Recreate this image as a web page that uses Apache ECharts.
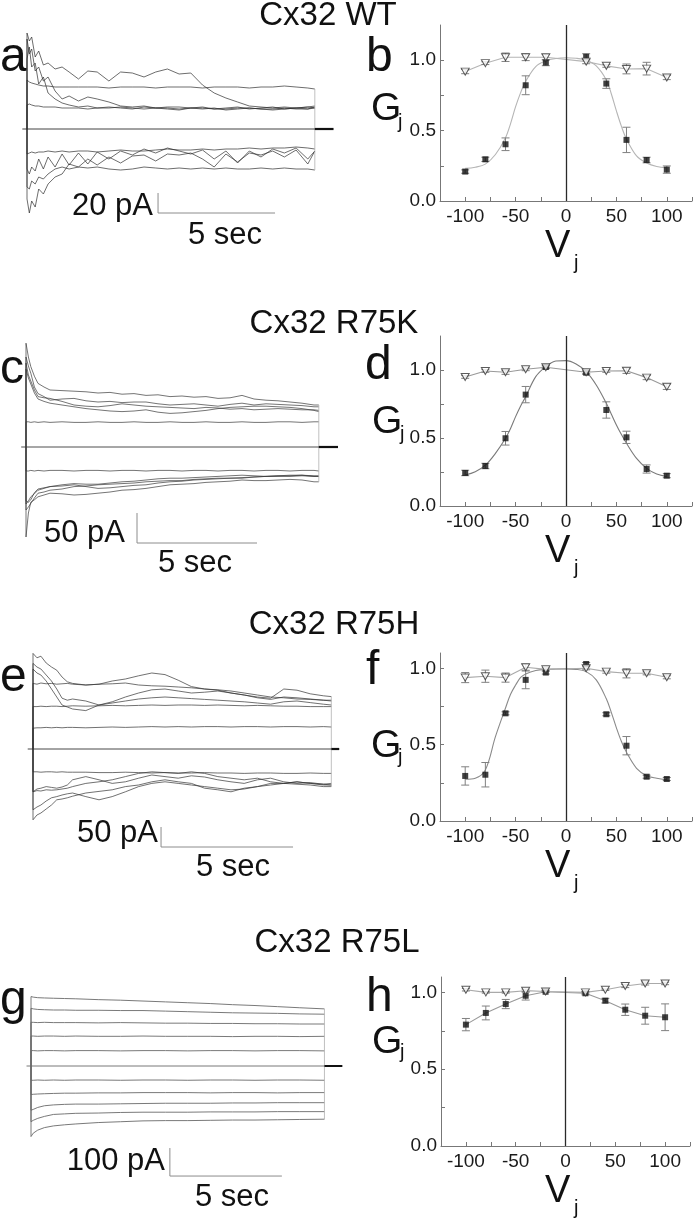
<!DOCTYPE html>
<html><head><meta charset="utf-8">
<script src="https://cdn.jsdelivr.net/npm/echarts@6/dist/echarts.min.js"></script>
<style>html,body{margin:0;padding:0;background:#fff}#c{width:693px;height:1219px}</style>
</head><body><div id="c"></div><script>
const FONT = '"Liberation Sans", Arial, Helvetica, sans-serif';

// ================= DATA =================
// Titles / panel letters
const titles = ['Cx32 WT', 'Cx32 R75K', 'Cx32 R75H', 'Cx32 R75L'];
const letters = ['a', 'b', 'c', 'd', 'e', 'f', 'g', 'h'];

// ---- Gj–Vj plots (b, d, f, h) ----
const vj = [-100, -80, -60, -40, -20, 20, 40, 60, 80, 100];
const fitV = [-100, -90, -80, -70, -60, -55, -50, -45, -40, -30, -20, -10, 0, 10, 20, 30, 40, 45, 50, 55, 60, 70, 80, 90, 100];
const xTickVals = [-125, -100, -75, -50, -25, 0, 25, 50, 75, 100, 125];
const xLabelVals = [-100, -50, 0, 50, 100];
const yTickVals = [0, 0.25, 0.5, 0.75, 1.0];
const yLabelVals = [0, 0.5, 1.0];

// WT
const wtSq = [0.209, 0.296, 0.403, 0.822, 0.983, 1.024, 0.834, 0.434, 0.291, 0.223];
const wtSqErr = [0.012, 0.015, 0.045, 0.067, 0.022, 0.022, 0.034, 0.09, 0.02, 0.026];
const wtTri = [0.919, 0.979, 1.021, 1.021, 1.021, 0.99, 0.96, 0.938, 0.94, 0.877];
const wtTriErr = [0.015, 0.01, 0.03, 0.024, 0.02, 0.015, 0.01, 0.035, 0.045, 0.015];
const wtFit = [0.232, 0.24, 0.262, 0.33, 0.45, 0.55, 0.67, 0.77, 0.85, 0.955, 0.995, 1.012, 1.017, 1.014, 1.0, 0.96, 0.86, 0.76, 0.64, 0.53, 0.44, 0.32, 0.27, 0.245, 0.235];
// R75K
const kSq = [0.243, 0.294, 0.498, 0.819, 1.022, 0.98, 0.706, 0.505, 0.272, 0.223];
const kSqErr = [0.02, 0.02, 0.05, 0.06, 0.01, 0.012, 0.06, 0.045, 0.03, 0.015];
const kTri = [0.949, 0.993, 0.983, 1.005, 1.02, 0.983, 0.993, 0.995, 0.944, 0.877];
const kTriErr = [0.01, 0.01, 0.015, 0.01, 0.01, 0.01, 0.01, 0.02, 0.015, 0.02];
const kFit = [0.228, 0.252, 0.30, 0.387, 0.498, 0.57, 0.657, 0.735, 0.804, 0.951, 1.025, 1.066, 1.069, 1.044, 0.988, 0.89, 0.755, 0.675, 0.596, 0.525, 0.461, 0.35, 0.277, 0.235, 0.216];
// R75H
const hSq = [0.295, 0.303, 0.705, 0.924, 0.972, 1.028, 0.699, 0.493, 0.29, 0.275];
const hSqErr = [0.06, 0.08, 0.01, 0.058, 0.01, 0.01, 0.01, 0.06, 0.01, 0.01];
const hTri = [0.939, 0.948, 0.939, 1.007, 0.993, 1.0, 0.978, 0.967, 0.967, 0.941];
const hTriErr = [0.033, 0.04, 0.03, 0.02, 0.01, 0.01, 0.01, 0.03, 0.01, 0.01];
const hFit = [0.273, 0.28, 0.334, 0.552, 0.74, 0.83, 0.89, 0.94, 0.963, 0.985, 0.993, 0.995, 0.996, 0.993, 0.978, 0.924, 0.80, 0.71, 0.61, 0.52, 0.45, 0.345, 0.297, 0.28, 0.269];
// R75L
const lSq = [0.79, 0.866, 0.924, 0.978, 1.004, 0.994, 0.946, 0.887, 0.848, 0.838];
const lSqErr = [0.04, 0.045, 0.03, 0.028, 0.005, 0.01, 0.015, 0.037, 0.055, 0.087];
const lTri = [1.017, 1.0, 1.0, 1.011, 1.006, 1.0, 1.017, 1.041, 1.058, 1.058];
const lTriErr = [0.008, 0.005, 0.005, 0.01, 0.005, 0.005, 0.005, 0.01, 0.01, 0.008];

// ---- current traces (a, c, e, g): time in s, current in pA ----
const scaleSec = [5, 5, 5, 5];
const scalePA = [20, 50, 50, 100];

const tA = [0, 0.1, 0.2, 0.35, 0.5, 0.7, 0.9, 1.2, 1.5, 1.8, 2.2, 2.6, 3.0, 3.5, 4.0, 4.5, 5.0, 5.5, 6.0, 6.5, 7.0, 7.5, 8.0, 8.5, 9.0, 9.5, 10.0, 10.5, 11.0, 11.5, 12.0, 12.3];
const a1 = [96, 88, 92, 72, 78, 64, 66, 60, 62, 57, 50, 58, 57, 48, 57, 56, 52, 57, 60, 55, 56, 44, 36, 31, 27, 23, 22, 21, 22, 21, 22, 23];
const a2 = [49, 47, 46, 45, 44, 43, 43, 42, 42, 42, 42, 42, 42, 41, 42, 42, 42, 41, 42, 42, 42, 41, 42, 42, 42, 41, 42, 42, 43, 42, 41, 40];
const a3 = [90, 75, 80, 58, 62, 48, 52, 38, 30, 33, 28, 32, 30, 27, 23, 22, 23, 21, 22, 22, 21, 22, 20, 21, 22, 20, 21, 22, 20, 21, 22, 21];
const a4 = [24, 25, 24, 23, 23, 22, 22, 22, 21, 21, 21, 20, 21, 21, 22, 21, 20, 21, 21, 20, 21, 21, 20, 20, 21, 21, 20, 20, 21, 20, 20, 21];
const a5 = [70, 82, 62, 66, 45, 52, 36, 30, 26, 24, 22, 23, 21, 22, 21, 20, 22, 21, 20, 19, 21, 20, 21, 19, 20, 21, 20, 19, 20, 21, 20, 22];
const a6 = [-25, -24, -23, -24, -23, -23, -22, -23, -22, -23, -22, -22, -23, -22, -21, -22, -22, -21, -20, -21, -21, -20, -21, -20, -20, -19, -20, -19, -19, -18, -19, -20];
const a7 = [-40, -45, -38, -42, -30, -40, -28, -38, -25, -36, -24, -35, -23, -30, -22, -26, -20, -24, -19, -22, -25, -21, -30, -22, -34, -22, -28, -20, -24, -19, -30, -22];
const a8 = [-58, -60, -52, -55, -48, -50, -45, -40, -38, -40, -38, -39, -38, -40, -41, -40, -38, -39, -40, -39, -40, -39, -40, -39, -40, -40, -39, -40, -39, -40, -40, -41];
const a9 = [-70, -84, -72, -78, -60, -65, -55, -48, -45, -35, -38, -30, -36, -28, -34, -27, -26, -32, -25, -26, -24, -30, -38, -25, -33, -24, -26, -22, -28, -21, -35, -22];

const tC = [0, 0.1, 0.2, 0.35, 0.5, 0.75, 1, 1.5, 2, 2.5, 3, 3.5, 4, 4.5, 5, 5.5, 6, 6.5, 7, 7.5, 8, 8.5, 9, 9.5, 10, 10.5, 11, 11.5, 12, 12.2];
const c1 = [173, 150, 134, 118, 106, 100, 95, 94, 93, 92, 90, 91, 88, 89, 86, 87, 84, 85, 83, 84, 81, 82, 86, 80, 78, 77, 75, 73, 70, 70];
const c2 = [150, 135, 123, 100, 89, 84, 78, 80, 81, 77, 75, 76, 74, 75, 75, 72, 70, 71, 72, 70, 68, 71, 73, 70, 72, 71, 70, 69, 67, 67];
const c3 = [140, 120, 110, 95, 84, 82, 81, 76, 70, 68, 67, 69, 72, 70, 68, 67, 66, 65, 64, 66, 65, 63, 64, 62, 63, 64, 63, 62, 62, 61];
const c4 = [130, 115, 105, 90, 80, 76, 73, 70, 67, 64, 62, 60, 59, 60, 62, 58, 56, 57, 59, 61, 64, 66, 67, 68, 68, 67, 66, 64, 61, 59];
const c5 = [42, 42, 41, 42, 41, 42, 41, 42, 41, 41, 42, 41, 41, 42, 41, 41, 42, 41, 41, 42, 41, 41, 42, 41, 41, 42, 42, 41, 42, 42];
const c6 = [-40, -40, -39, -40, -39, -40, -39, -39, -40, -39, -39, -40, -39, -39, -40, -39, -39, -40, -39, -39, -40, -39, -39, -40, -39, -39, -40, -39, -39, -40];
const c7 = [-105, -100, -94, -85, -77, -75, -72, -70, -66, -65, -63, -62, -61, -60, -58, -57, -56, -56, -54, -53, -52, -52, -51, -50, -49, -49, -49, -48, -49, -49];
const c8 = [-95, -90, -83, -78, -72, -69, -66, -65, -63, -66, -69, -68, -66, -64, -63, -60, -58, -57, -55, -54, -53, -52, -52, -50, -49, -48, -48, -47, -48, -48];
const c9 = [-150, -110, -92, -88, -83, -80, -77, -78, -80, -79, -77, -75, -72, -71, -69, -66, -63, -62, -61, -59, -58, -57, -55, -56, -56, -55, -54, -55, -58, -58];
const c10 = [-90, -92, -88, -76, -70, -68, -66, -63, -61, -62, -62, -60, -58, -57, -55, -53, -52, -52, -51, -50, -49, -48, -47, -48, -49, -48, -47, -47, -49, -49];

const tE = [0, 0.15, 0.3, 0.5, 0.7, 0.9, 1.1, 1.3, 1.5, 2, 2.5, 3, 3.5, 4, 4.5, 5, 5.5, 6, 6.5, 7, 7.5, 8, 8.5, 9, 9.5, 10, 10.5, 11, 11.3];
const e1 = [239, 228, 232, 215, 205, 197, 180, 168, 164, 160, 162, 170, 175, 183, 190, 186, 172, 156, 150, 147, 140, 135, 130, 127, 150, 147, 138, 133, 131];
const e2 = [214, 205, 200, 185, 170, 150, 127, 122, 125, 120, 110, 118, 130, 140, 148, 150, 145, 140, 142, 145, 140, 135, 128, 124, 130, 128, 125, 122, 120];
const e3 = [164, 162, 165, 163, 164, 162, 163, 164, 162, 160, 162, 163, 165, 160, 158, 157, 155, 153, 150, 148, 145, 140, 135, 130, 128, 125, 124, 122, 122];
const e4 = [200, 190, 185, 170, 150, 130, 110, 105, 100, 96, 110, 115, 120, 125, 128, 130, 128, 126, 124, 122, 120, 118, 115, 112, 118, 120, 116, 112, 110];
const e5 = [106, 106, 107, 106, 107, 107, 106, 107, 108, 107, 108, 109, 108, 109, 110, 109, 110, 110, 109, 110, 109, 108, 109, 108, 107, 107, 106, 106, 106];
const e6 = [52, 53, 53, 54, 53, 54, 53, 54, 54, 53, 54, 55, 54, 55, 56, 55, 56, 55, 56, 56, 55, 56, 56, 55, 56, 56, 55, 56, 55];
const e7 = [-57, -57, -58, -57, -57, -58, -57, -58, -58, -58, -59, -59, -58, -59, -60, -59, -60, -60, -59, -60, -60, -61, -60, -60, -61, -61, -60, -61, -61];
const e8 = [-107, -104, -105, -102, -103, -102, -100, -98, -94, -86, -82, -77, -69, -61, -57, -59, -61, -57, -61, -69, -73, -77, -73, -82, -86, -82, -86, -90, -90];
const e9 = [-152, -145, -140, -130, -122, -119, -115, -112, -110, -119, -127, -119, -107, -94, -86, -82, -86, -90, -94, -98, -102, -100, -94, -86, -86, -88, -90, -94, -94];
const e10 = [-177, -165, -160, -150, -140, -127, -125, -122, -118, -110, -106, -102, -94, -90, -82, -77, -82, -86, -98, -102, -107, -98, -94, -90, -86, -82, -86, -88, -86];
const e11 = [-107, -100, -98, -94, -96, -98, -95, -90, -77, -69, -77, -86, -82, -73, -65, -69, -73, -67, -70, -77, -82, -86, -77, -73, -82, -86, -84, -88, -90];

const tG = [0, 0.1, 0.3, 0.6, 1, 1.5, 2, 3, 4, 5, 6, 7, 8, 9, 10, 11, 12, 13.1];
const g1 = [248, 246, 244, 243, 242, 241, 240, 237, 235, 232, 229, 226, 223, 219, 216, 212, 208, 204];
const g2 = [206, 204, 202, 201, 200, 200, 199, 199, 198, 198, 196, 194, 192, 190, 189, 188, 186, 185];
const g3 = [156, 156, 155, 156, 155, 155, 155, 154, 155, 154, 153, 153, 152, 152, 151, 151, 150, 150];
const g4 = [107, 107, 106, 107, 107, 106, 107, 106, 106, 107, 106, 106, 106, 105, 106, 106, 105, 106];
const g5 = [55, 55, 54, 55, 55, 54, 55, 55, 54, 55, 55, 54, 55, 55, 54, 55, 55, 54];
const g7 = [-51, -51, -50, -51, -50, -51, -50, -50, -51, -50, -50, -51, -50, -50, -51, -50, -50, -51];
const g8 = [-102, -101, -100, -99, -98, -97, -97, -96, -96, -95, -95, -95, -96, -95, -95, -96, -95, -95];
const g9 = [-158, -155, -148, -142, -139, -137, -136, -136, -135, -134, -133, -133, -133, -132, -132, -131, -131, -131];
const g10 = [-199, -194, -187, -180, -173, -171, -169, -168, -166, -165, -165, -165, -164, -164, -164, -163, -163, -163];
const g11 = [-252, -240, -229, -220, -214, -210, -207, -202, -199, -196, -195, -195, -194, -193, -193, -192, -191, -190];

// ================= LAYOUT =================
const tracePanels = [
  { t: tA, traces: [a1, a2, a3, a4, a5, a6, a7, a8, a9], tHold: 13.1, ox: 27, oy: 129, sx: 23.4, sy: 1.0, tr: [-0.5, 13.5], yr: [-100, 115], bar: [5.6, -84], color: '#2e2e2e', w: 0.7,
    pALbl: [153, 206], secLbl: [225, 235] },
  { t: tC, traces: [c1, c2, c3, c4, c5, c6, c7, c8, c9, c10], tHold: 13.0, ox: 26, oy: 447, sx: 24, sy: 0.6, tr: [-0.5, 13.5], yr: [-180, 190], bar: [4.625, -160], color: '#3a3a3a', w: 0.7,
    pALbl: [125, 533], secLbl: [195, 563] },
  { t: tE, traces: [e1, e2, e3, e4, e5, e6, e7, e8, e9, e10, e11], tHold: 11.6, ox: 33, oy: 749, sx: 26.4, sy: 0.4, tr: [-0.5, 12], yr: [-260, 260], bar: [4.85, -245], color: '#333', w: 0.7,
    pALbl: [158, 833], secLbl: [233, 867] },
  { t: tG, traces: [g1, g2, g3, g4, g5, g7, g8, g9, g10, g11], tHold: 13.9, ox: 31, oy: 1066, sx: 22.4, sy: 0.28, tr: [-0.5, 14], yr: [-420, 280], bar: [6.2, -393], color: '#6a6a6a', w: 0.9,
    pALbl: [165, 1161], secLbl: [232, 1197] }
];

const gjPanels = [
  { sq: wtSq, sqErr: wtSqErr, tri: wtTri, triErr: wtTriErr, fit: wtFit, ymax: 1.25, grid: { left: 440, top: 25, width: 252, height: 176 }, fitColor: '#b5b5b5', triColor: '#b5b5b5' },
  { sq: kSq, sqErr: kSqErr, tri: kTri, triErr: kTriErr, fit: kFit, ymax: 1.25, grid: { left: 440, top: 336, width: 252, height: 170 }, fitColor: '#7a7a7a', triColor: '#999' },
  { sq: hSq, sqErr: hSqErr, tri: hTri, triErr: hTriErr, fit: hFit, ymax: 1.1, grid: { left: 440, top: 653, width: 252, height: 168 }, fitColor: '#8a8a8a', triColor: '#aaa' },
  { sq: lSq, sqErr: lSqErr, tri: lTri, triErr: lTriErr, fit: null, ymax: 1.1, grid: { left: 441, top: 977, width: 249, height: 169 }, fitColor: '#999', triColor: '#aaa' }
];

const letterPos = [[0, 58], [366, 58], [0, 370], [365, 366], [0, 678], [366, 671], [0, 1001], [366, 998]];
const titlePos = [[328, 16], [334, 324], [334, 625], [337, 943]];
const gPos = [[371, 109, 398, 122], [372, 422, 400, 434], [371, 746, 398, 757], [372, 1042, 400, 1052]];
const vAxisY = [201, 506, 821, 1146];

// ================= BUILD =================
const grids = [], xAxes = [], yAxes = [], series = [], graphics = [];

function txt(x, y, text, size, align, extra) {
  return Object.assign({
    type: 'text', x: x, y: y, silent: true,
    style: { text: text, font: size + 'px ' + FONT, fill: '#111', align: align, textAlign: align, verticalAlign: 'middle', textVerticalAlign: 'middle' }
  }, extra || {});
}

tracePanels.forEach((p, i) => {
  grids.push({ left: p.ox + p.tr[0] * p.sx, width: (p.tr[1] - p.tr[0]) * p.sx, top: p.oy - p.yr[1] * p.sy, height: (p.yr[1] - p.yr[0]) * p.sy });
  xAxes.push({ gridIndex: i, type: 'value', min: p.tr[0], max: p.tr[1], show: false });
  yAxes.push({ gridIndex: i, type: 'value', min: p.yr[0], max: p.yr[1], show: false });
  const last = p.t.length - 1;
  const tEnd = p.t[last];
  p.traces.forEach(vals => {
    const d = [[0, 0]].concat(p.t.map((t, k) => [t, vals[k]]));
    series.push({ type: 'line', xAxisIndex: i, yAxisIndex: i, data: d, showSymbol: false, symbol: 'none', silent: true, animation: false,
      lineStyle: { color: p.color, width: p.w } });
  });
  // thin vertical at the end of the pulse
  const ends = p.traces.map(v => v[last]);
  series.push({ type: 'line', xAxisIndex: i, yAxisIndex: i, data: [[tEnd, Math.max.apply(null, ends)], [tEnd, Math.min.apply(null, ends)]], symbol: 'none', silent: true, animation: false,
    lineStyle: { color: '#b0b0b0', width: 0.8 } });
  // holding (zero) trace
  series.push({ type: 'line', xAxisIndex: i, yAxisIndex: i, data: [[-0.2, 0], [tEnd, 0]], symbol: 'none', silent: true, animation: false, lineStyle: { color: p.color, width: 0.9 } });
  series.push({ type: 'line', xAxisIndex: i, yAxisIndex: i, data: [[tEnd, 0], [p.tHold, 0]], symbol: 'none', silent: true, animation: false, lineStyle: { color: '#111', width: 2.2 } });
  // scale bar
  const b = p.bar;
  series.push({ type: 'line', xAxisIndex: i, yAxisIndex: i, data: [[b[0], b[1] + scalePA[i]], [b[0], b[1]], [b[0] + scaleSec[i], b[1]]], symbol: 'none', silent: true, animation: false,
    lineStyle: { color: '#8c8c8c', width: 1 } });
  graphics.push(txt(p.pALbl[0], p.pALbl[1], scalePA[i] + ' pA', 31, 'right'));
  graphics.push(txt(p.secLbl[0], p.secLbl[1], scaleSec[i] + ' sec', 31, 'center'));
});

function errItem(params, api) {
  const x = api.value(0), lo = api.value(1), hi = api.value(2);
  const a = api.coord([x, lo]), b = api.coord([x, hi]);
  const w = 4;
  const st = () => ({ stroke: '#808080', lineWidth: 1 });
  return { type: 'group', children: [
    { type: 'line', shape: { x1: a[0], y1: a[1], x2: b[0], y2: b[1] }, style: st() },
    { type: 'line', shape: { x1: a[0] - w, y1: a[1], x2: a[0] + w, y2: a[1] }, style: st() },
    { type: 'line', shape: { x1: b[0] - w, y1: b[1], x2: b[0] + w, y2: b[1] }, style: st() }
  ] };
}

gjPanels.forEach((p, j) => {
  const gi = j + 4;
  grids.push(p.grid);
  const axisLineStyle = { color: '#777', width: 1 };
  xAxes.push({ gridIndex: gi, type: 'value', min: -125, max: 125,
    axisLine: { show: true, onZero: false, lineStyle: axisLineStyle },
    axisTick: { show: true, inside: true, length: 4, customValues: xTickVals, lineStyle: { color: '#777' } },
    axisLabel: { show: true, customValues: xLabelVals, fontSize: 19, color: '#1a1a1a', fontFamily: FONT, margin: 6 },
    splitLine: { show: false } });
  yAxes.push({ gridIndex: gi, type: 'value', min: 0, max: p.ymax,
    axisLine: { show: true, onZero: false, lineStyle: axisLineStyle },
    axisTick: { show: true, inside: true, length: 4, customValues: yTickVals, lineStyle: { color: '#777' } },
    axisLabel: { show: true, customValues: yLabelVals, formatter: v => Number(v).toFixed(1), fontSize: 19, color: '#1a1a1a', fontFamily: FONT, margin: 4 },
    splitLine: { show: false } });
  const base = { xAxisIndex: gi, yAxisIndex: gi, silent: true, animation: false };
  if (p.fit) {
    series.push(Object.assign({ type: 'line', data: fitV.map((v, k) => [v, p.fit[k]]), smooth: 0.35, symbol: 'none', z: 2,
      lineStyle: { color: p.fitColor, width: 1.1 } }, base));
  } else {
    series.push(Object.assign({ type: 'line', data: vj.map((v, k) => [v, p.sq[k]]), symbol: 'none', z: 2,
      lineStyle: { color: p.fitColor, width: 1.1 } }, base));
  }
  series.push(Object.assign({ type: 'line', data: vj.map((v, k) => [v, p.tri[k]]), symbol: 'none', z: 2,
    lineStyle: { color: p.triColor, width: 1.1 },
    markLine: { silent: true, symbol: ['none', 'none'], label: { show: false }, animation: false,
      lineStyle: { color: '#2a2a2a', width: 1.3, type: 'solid' }, data: [{ xAxis: 0 }] } }, base));
  series.push(Object.assign({ type: 'custom', renderItem: errItem, encode: { x: 0, y: [1, 2] }, z: 3,
    data: vj.map((v, k) => [v, p.sq[k] - p.sqErr[k], p.sq[k] + p.sqErr[k]]).concat(vj.map((v, k) => [v, p.tri[k] - p.triErr[k], p.tri[k] + p.triErr[k]])) }, base));
  series.push(Object.assign({ type: 'scatter', data: vj.map((v, k) => [v, p.sq[k]]), symbol: 'rect', symbolSize: 6, z: 5,
    itemStyle: { color: '#111' } }, base));
  series.push(Object.assign({ type: 'scatter', data: vj.map((v, k) => [v, p.tri[k]]), symbol: 'triangle', symbolRotate: 180, symbolSize: [8, 7], z: 6,
    itemStyle: { color: '#fff', borderColor: '#333', borderWidth: 1 } }, base));

  const g = gPos[j];
  graphics.push(txt(g[0], g[1], 'G', 39, 'left'));
  graphics.push(txt(g[2], g[3], 'j', 20, 'left'));
  graphics.push(txt(545, vAxisY[j] + 45.5, 'V', 38, 'left'));
  graphics.push(txt(574, vAxisY[j] + 62, 'j', 20, 'left'));
});

letters.forEach((l, k) => graphics.push(txt(letterPos[k][0], letterPos[k][1], l, 48, 'left')));
titles.forEach((t, k) => graphics.push(txt(titlePos[k][0], titlePos[k][1], t, 33, 'center')));

const chart = echarts.init(document.getElementById('c'), null, { renderer: 'canvas' });
chart.setOption({
  animation: false,
  backgroundColor: '#fff',
  grid: grids, xAxis: xAxes, yAxis: yAxes, series: series,
  graphic: { elements: graphics }
});
</script></body></html>
